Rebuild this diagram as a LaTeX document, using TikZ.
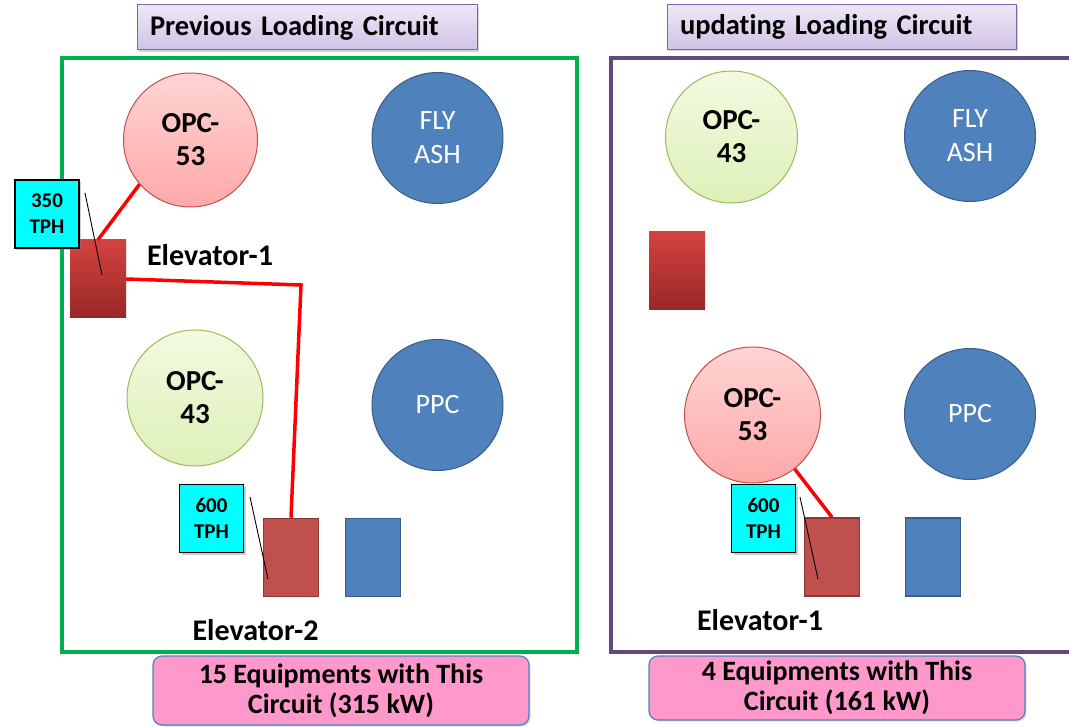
\documentclass[tikz,border=0pt]{standalone}
\usepackage{fontspec}
\setmainfont{Carlito}[Ligatures=NoCommon]
\usetikzlibrary{shadows,calc}
\definecolor{frameg}{RGB}{0,176,80}
\definecolor{framep}{RGB}{96,74,123}
\definecolor{titleborder}{RGB}{128,100,162}
\definecolor{titletop}{RGB}{238,232,246}
\definecolor{titlebot}{RGB}{208,194,230}
\definecolor{pinkborder}{RGB}{192,80,77}
\definecolor{pinktop}{RGB}{255,212,212}
\definecolor{pinkbot}{RGB}{255,168,168}
\definecolor{greenborder}{RGB}{155,187,89}
\definecolor{greentop}{RGB}{242,250,224}
\definecolor{greenbot}{RGB}{222,240,185}
\definecolor{blueborder}{RGB}{56,93,138}
\definecolor{bluefill}{RGB}{79,129,189}
\definecolor{redtop}{RGB}{212,66,64}
\definecolor{redbot}{RGB}{152,40,38}
\definecolor{redflat}{RGB}{192,80,77}
\definecolor{redborder}{RGB}{140,56,53}
\definecolor{tphcyan}{RGB}{0,255,255}
\definecolor{sumpink}{RGB}{255,153,204}
\definecolor{linkred}{RGB}{255,0,0}
\begin{document}
\begin{tikzpicture}[x=1pt,y=-1pt,
  framebox/.style={line width=3.5pt},
  titlebox/.style={draw=titleborder, line width=1pt, top color=titletop, bottom color=titlebot,
    drop shadow={shadow xshift=2pt, shadow yshift=-2pt, opacity=0.35},
    minimum height=45pt, inner xsep=13pt, align=left,
    font=\fontsize{28.5}{32}\selectfont\bfseries},
  cbase/.style={circle, line width=1pt, minimum size=134pt, inner sep=0pt, align=center},
  pinkc/.style={cbase, draw=pinkborder, top color=pinktop, bottom color=pinkbot,
    font=\fontsize{29}{33}\selectfont\bfseries},
  greenc/.style={cbase, draw=greenborder, top color=greentop, bottom color=greenbot,
    font=\fontsize{29}{33}\selectfont\bfseries},
  bluec/.style={cbase, minimum size=131pt, draw=blueborder, fill=bluefill, text=white,
    font=\fontsize{28}{34}\selectfont},
  elevgrad/.style={rectangle, minimum width=56pt, minimum height=78pt, inner sep=0pt,
    top color=redtop, bottom color=redbot},
  elevflat/.style={rectangle, minimum width=55pt, minimum height=78pt, inner sep=0pt,
    fill=redflat, draw=redborder, line width=1.5pt},
  bluebox/.style={rectangle, minimum width=55pt, minimum height=78pt, inner sep=0pt,
    fill=bluefill, draw=blueborder, line width=1.5pt},
  tph/.style={rectangle, draw=black, line width=1.2pt, fill=tphcyan,
    minimum width=64pt, minimum height=68pt, inner sep=0pt, align=center,
    drop shadow={shadow xshift=2pt, shadow yshift=-2pt, opacity=0.4},
    font=\fontsize{21}{26}\selectfont\bfseries},
  elabel/.style={font=\fontsize{30}{32}\selectfont\bfseries},
  summary/.style={rectangle, rounded corners=9pt, draw=bluefill, line width=1.2pt, fill=sumpink,
    minimum width=376pt, inner sep=0pt, align=center,
    drop shadow={shadow xshift=1.5pt, shadow yshift=-1.5pt, opacity=0.3},
    font=\fontsize{28}{30}\selectfont\bfseries},
  link/.style={draw=linkred, line width=3.5pt},
  pointer/.style={draw=black, line width=0.9pt}
]
\useasboundingbox (0,0) rectangle (1069,727);

% frames
\draw[framebox, draw=frameg] (62,58) rectangle (577,652);
\draw[framebox, draw=framep] (611,58) rectangle (1080,652);

% titles
\node[titlebox, minimum width=340pt, text width=314pt] (t1) at (307,27.5) {Previous Loading Circuit};
\node[titlebox, minimum width=349pt, text width=323pt] (t2) at (841.5,27) {updating Loading Circuit};

% ---------- left panel ----------
\node[pinkc] (lopc53) at (190.5,140) {OPC-\\53};
\node[bluec] (lfly) at (437.5,138) {FLY\\ASH};
\node[greenc, minimum size=136pt] (lopc43) at (195,398) {OPC-\\43};
\node[bluec] (lppc) at (437.5,405) {PPC};

\node[elevgrad] (lelev1) at (98,279) {};
\node[tph] (ltph1) at (47,214) {350\\TPH};
\node[elabel] (lelev1lab) at (210,255) {Elevator-1};

\node[elevflat] (lelev2) at (291,557.5) {};
\node[bluebox] (lblue) at (373,557.5) {};
\node[tph] (ltph2) at (211.5,518.5) {600\\TPH};
\node[elabel] (lelev2lab) at (255.5,630) {Elevator-2};

\coordinate (lbend) at (301,285);
\draw[link] (lopc53.221) -- (lelev1.north);
\draw[link, line join=miter] (lelev1.east) -- (lbend) -- (lelev2.north);

\coordinate (lp1s) at (85,193);
\coordinate (lp1e) at (102,275);
\draw[pointer] (lp1s) -- (lp1e);
\coordinate (lp2s) at (250,497);
\coordinate (lp2e) at (268,579);
\draw[pointer] (lp2s) -- (lp2e);

\node[summary, minimum height=69pt] (lsum) at (341,690.5) {15 Equipments with This\\Circuit (315 kW)};

% ---------- right panel ----------
\node[greenc, minimum size=132pt] (ropc43) at (731.5,137) {OPC-\\43};
\node[bluec] (rfly) at (970,136) {FLY\\ASH};
\node[elevgrad] (rred) at (677,271) {};
\node[pinkc, minimum size=136pt] (ropc53) at (752.5,415) {OPC-\\53};
\node[bluec] (rppc) at (970,414) {PPC};

\node[elevflat] (relev1) at (832,557) {};
\node[bluebox] (rblue) at (933,557) {};
\node[tph] (rtph) at (763.5,518.5) {600\\TPH};
\node[elabel] (relev1lab) at (760,620) {Elevator-1};

\draw[link] (ropc53.-52) -- (relev1.north);
\coordinate (rp1s) at (800,497);
\coordinate (rp1e) at (818,579);
\draw[pointer] (rp1s) -- (rp1e);

\node[summary, minimum height=64pt] (rsum) at (837,688) {4 Equipments with This\\Circuit (161 kW)};
\end{tikzpicture}
\end{document}
